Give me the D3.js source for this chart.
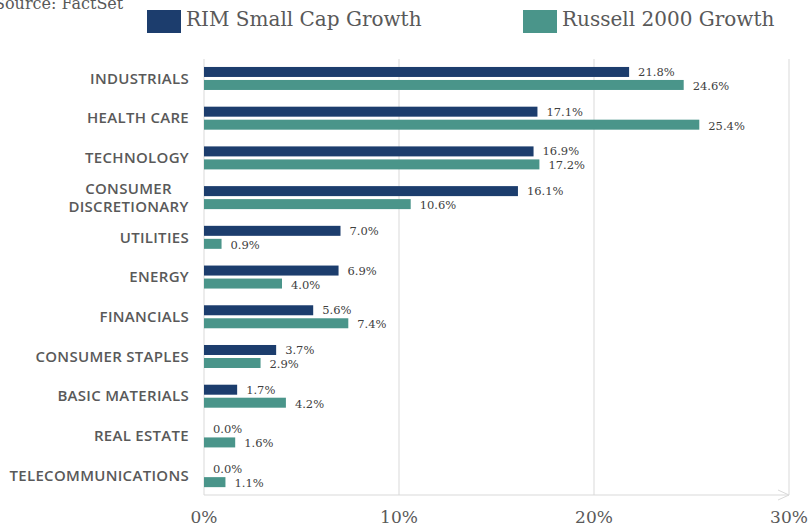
<!DOCTYPE html>
<html>
<head>
    <meta charset="UTF-8">
    <title>Sector weights</title>
    <script src="https://d3js.org/d3.v7.min.js"></script>
    <style>
        body { margin: 0; background: #fff; }
    </style>
</head>
<body>
<script>
    const sectors = ["INDUSTRIALS", "HEALTH CARE", "TECHNOLOGY", "CONSUMER DISCRETIONARY", "UTILITIES",
        "ENERGY", "FINANCIALS", "CONSUMER STAPLES", "BASIC MATERIALS", "REAL ESTATE", "TELECOMMUNICATIONS"];
    const rim = [21.8, 17.1, 16.9, 16.1, 7.0, 6.9, 5.6, 3.7, 1.7, 0.0, 0.0];
    const russell = [24.6, 25.4, 17.2, 10.6, 0.9, 4.0, 7.4, 2.9, 4.2, 1.6, 1.1];
    const seriesNames = ["RIM Small Cap Growth", "Russell 2000 Growth"];
    const xTicks = [0, 10, 20, 30];

    const width = 811, height = 527;
    const navy = "#1c3d6d", teal = "#4a958a";
    const serif = "'DejaVu Serif', serif";
    const sans = "'Open Sans', sans-serif";

    const svg = d3.select("body").append("svg")
        .attr("width", width).attr("height", height);

    const x = d3.scaleLinear().domain([0, 30]).range([204, 789]);
    const y = d3.scaleBand().domain(sectors).range([58.6, 495.5]);

    // gridlines
    svg.selectAll("line.grid")
        .data(xTicks.slice(1))
        .enter().append("line")
        .attr("x1", d => x(d)).attr("x2", d => x(d))
        .attr("y1", 59).attr("y2", 495)
        .attr("stroke", "#d9d9d9").attr("stroke-width", 1);

    // left axis line
    svg.append("line")
        .attr("x1", x(0)).attr("x2", x(0)).attr("y1", 59).attr("y2", 495)
        .attr("stroke", "#d9d9d9");

    // bottom axis with arrow
    svg.append("line")
        .attr("x1", x(0)).attr("x2", x(30)).attr("y1", 495).attr("y2", 495)
        .attr("stroke", "#d9d9d9");
    svg.append("path")
        .attr("d", `M${x(30) - 11},${490} L${x(30)},${495} L${x(30) - 11},${500}`)
        .attr("fill", "none").attr("stroke", "#d9d9d9");

    const rows = sectors.map((s, i) => ({ s, rim: rim[i], rus: russell[i] }));
    const bh = 10;

    const g = svg.selectAll("g.row").data(rows).enter().append("g")
        .attr("transform", d => `translate(0,${y(d.s) + y.bandwidth() / 2})`);

    g.append("rect")
        .attr("x", x(0)).attr("y", -bh - 1.5)
        .attr("width", d => x(d.rim) - x(0)).attr("height", bh)
        .attr("fill", navy);
    g.append("rect")
        .attr("x", x(0)).attr("y", 1.5)
        .attr("width", d => x(d.rus) - x(0)).attr("height", bh)
        .attr("fill", teal);

    g.append("text")
        .attr("x", d => x(d.rim) + 9).attr("y", -bh / 2 - 1.5)
        .attr("dy", "0.35em")
        .attr("font-family", serif).attr("font-size", 11.5).attr("fill", "#404040")
        .text(d => d.rim.toFixed(1) + "%");
    g.append("text")
        .attr("x", d => x(d.rus) + 9).attr("y", bh / 2 + 2.5)
        .attr("dy", "0.35em")
        .attr("font-family", serif).attr("font-size", 11.5).attr("fill", "#404040")
        .text(d => d.rus.toFixed(1) + "%");

    // category labels
    g.each(function (d) {
        const sel = d3.select(this);
        const t = sel.append("text")
            .attr("font-family", sans).attr("font-weight", 600)
            .attr("font-size", 15).attr("letter-spacing", 0.3).attr("fill", "#595959");
        if (d.s === "CONSUMER DISCRETIONARY") {
            t.attr("text-anchor", "middle");
            t.append("tspan").attr("x", 128.5).attr("y", -9).attr("dy", "0.35em").text("CONSUMER");
            t.append("tspan").attr("x", 128.5).attr("y", 9).attr("dy", "0.35em").text("DISCRETIONARY");
        } else {
            t.attr("x", 189).attr("y", 0).attr("dy", "0.35em")
                .attr("text-anchor", "end")
                .text(d.s);
        }
    });

    // x tick labels
    svg.selectAll("text.tick")
        .data(xTicks)
        .enter().append("text")
        .attr("x", d => x(d)).attr("y", 517).attr("dy", "0.35em")
        .attr("text-anchor", "middle")
        .attr("font-family", serif).attr("font-size", 17).attr("fill", "#595959")
        .text(d => d + "%");

    // legend
    const legendX = [147, 523];
    const colors = [navy, teal];
    seriesNames.forEach((name, i) => {
        svg.append("rect")
            .attr("x", legendX[i]).attr("y", 10).attr("width", 34).attr("height", 23)
            .attr("fill", colors[i]);
        svg.append("text")
            .attr("x", legendX[i] + 39).attr("y", 26)
            .attr("font-family", serif).attr("font-size", 20).attr("fill", "#595959")
            .text(name);
    });

    // source note (clipped at the page edge, as in the original)
    svg.append("text")
        .attr("x", -6).attr("y", 9)
        .attr("font-family", serif).attr("font-size", 16).attr("fill", "#595959")
        .text("Source: FactSet");
</script>
</body>
</html>
